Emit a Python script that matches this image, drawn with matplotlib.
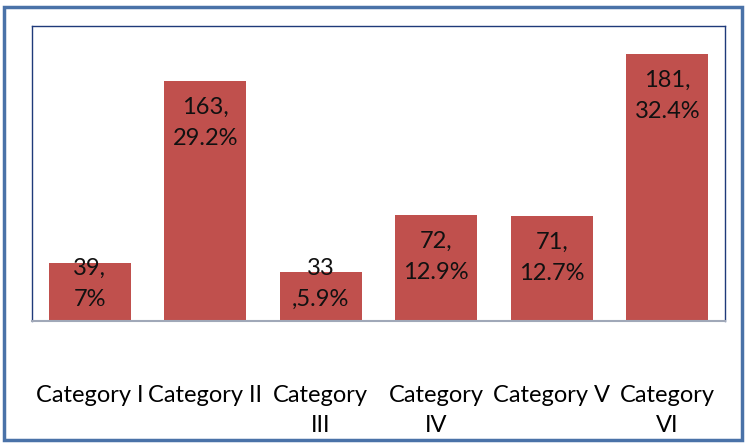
import matplotlib.pyplot as plt
from matplotlib.patches import FancyBboxPatch

# data
categories = ["Category I", "Category II", "Category\nIII", "Category\nIV", "Category V", "Category\nVI"]
counts = [39, 163, 33, 72, 71, 181]
labels = ["39,\n7%", "163,\n29.2%", "33\n,5.9%", "72,\n12.9%", "71,\n12.7%", "181,\n32.4%"]

plt.rcParams['font.family'] = ['Lato', 'DejaVu Sans']

fig = plt.figure(figsize=(7.5, 4.46), dpi=100)
W, H = 750, 446

# outer chart border
border = FancyBboxPatch((4 / W, 6 / H), 738 / W, 433 / H, boxstyle="square,pad=0",
                        transform=fig.transFigure, fill=False, edgecolor="#4a72a8", linewidth=2.5)
fig.patches.append(border)

ax = fig.add_axes([32 / W, (H - 321) / H, 693 / W, 295 / H])
x = list(range(len(categories)))
bars = ax.bar(x, counts, width=0.71, color="#c0504d", zorder=2)

ax.set_ylim(0, 200)
ax.set_xlim(-0.5, len(categories) - 0.5)
ax.set_yticks([])
ax.set_xticks(x)
ax.set_xticklabels(categories, fontsize=17, linespacing=1.55, va="top")
ax.tick_params(axis="x", length=0, pad=46)

for side in ["left", "top", "right"]:
    ax.spines[side].set_color("#1f3a7a")
    ax.spines[side].set_linewidth(1.0)
ax.spines["bottom"].set_color("#a0a8b8")
ax.spines["bottom"].set_linewidth(1.5)

# data labels: inside the bar top, but kept above the baseline for short bars
px = 200 / 295
for xi, v, lab in zip(x, counts, labels):
    yc = max(v - 42 * px, 37 * px)
    ax.text(xi, yc, lab, ha="center", va="center", fontsize=17, linespacing=1.6,
            color="#111111", zorder=3)

fig.savefig("out.png", dpi=100)
